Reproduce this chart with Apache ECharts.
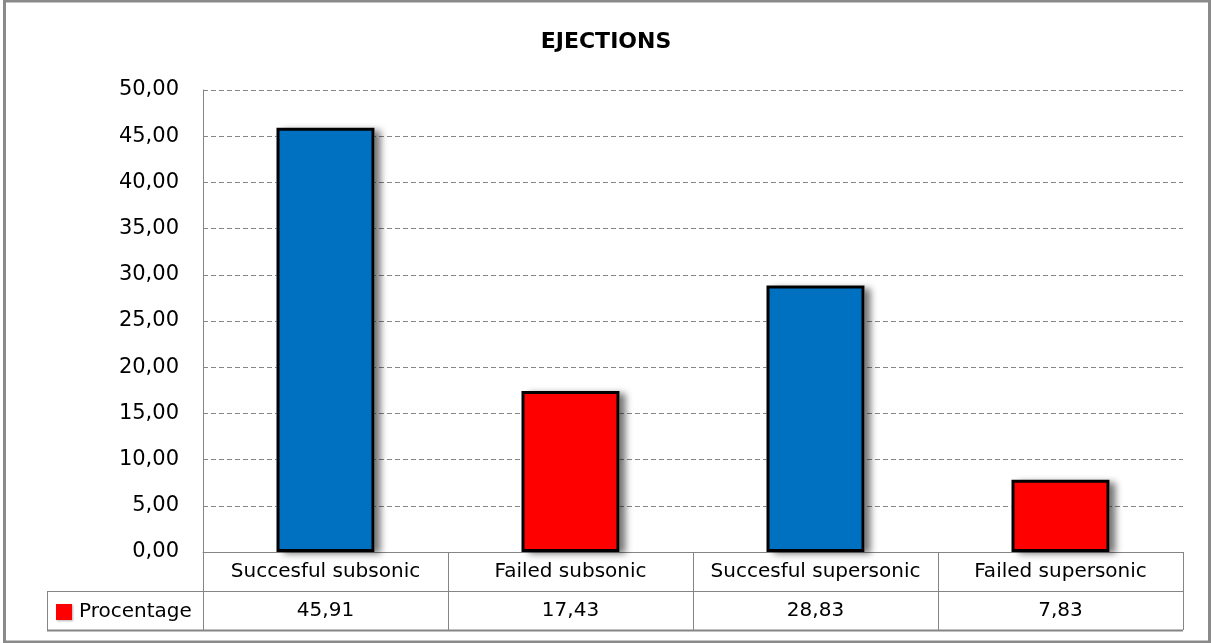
<!DOCTYPE html>
<html>
<head>
<meta charset="utf-8">
<script src="https://cdn.jsdelivr.net/npm/echarts@6/dist/echarts.min.js"></script>
<style>
html,body{margin:0;padding:0;background:#fff;}
#chart{width:1212px;height:643px;}
</style>
</head>
<body>
<div id="chart"></div>
<script>
const title = 'EJECTIONS';
const seriesName = 'Procentage';
const categories = ['Succesful subsonic', 'Failed subsonic', 'Succesful supersonic', 'Failed supersonic'];
const values = [45.91, 17.43, 28.83, 7.83];
const yTicks = [0, 5, 10, 15, 20, 25, 30, 35, 40, 45, 50];

// styling / layout (not data)
const BLUE = '#0070C0', RED = '#FF0000', GRAY = '#858585';
const barColors = [BLUE, RED, BLUE, RED];
const FONT = 'DejaVu Sans';
const G = {left: 203, right: 29, top: 90, bottom: 91};
const W = 1212, H = 643;
const axisY = H - G.bottom;          // 552
const rowH = 39;
const tableLeft = 47;
const tableRight = W - G.right;

const fmt = v => v.toFixed(2).replace('.', ',');

const chart = echarts.init(document.getElementById('chart'), null, {renderer: 'canvas'});
chart.setOption({
  animation: false,
  backgroundColor: '#fff',
  title: {
    text: title, left: 'center', top: 26,
    textStyle: {fontFamily: FONT, fontSize: 22, fontWeight: 'bold', color: '#000'}
  },
  legend: {
    data: [seriesName], left: 56, top: axisY + rowH + 11,
    itemWidth: 16, itemHeight: 16, itemGap: 5, padding: 0,
    icon: 'rect',
    itemStyle: {color: RED, borderWidth: 0, shadowColor: 'rgba(0,0,0,0.3)', shadowBlur: 2, shadowOffsetX: 1, shadowOffsetY: 1},
    textStyle: {fontFamily: FONT, fontSize: 20, color: '#000', padding: [0, 0, 0, 2]}
  },
  grid: {left: G.left, right: G.right, top: G.top, bottom: G.bottom, containLabel: false},
  xAxis: [{
    type: 'category', data: categories, position: 'bottom',
    axisLine: {show: true, lineStyle: {color: GRAY, width: 1}},
    axisTick: {show: true, length: rowH * 2, interval: 0, lineStyle: {color: GRAY, width: 1}},
    axisLabel: {interval: 0, margin: 9, fontFamily: FONT, fontSize: 20, color: '#000', lineHeight: 21},
    splitLine: {show: false}
  }, {
    type: 'category', data: values.map(fmt), position: 'bottom', offset: rowH,
    axisLine: {show: false}, axisTick: {show: false},
    axisLabel: {interval: 0, margin: 9, fontFamily: FONT, fontSize: 20, color: '#000', lineHeight: 21}
  }],
  yAxis: {
    type: 'value', min: yTicks[0], max: yTicks[yTicks.length - 1], interval: yTicks[1] - yTicks[0],
    axisLine: {show: true, lineStyle: {color: GRAY, width: 1}},
    axisTick: {show: false},
    axisLabel: {formatter: fmt, margin: 24, fontFamily: FONT, fontSize: 21, color: '#000'},
    splitLine: {show: true, lineStyle: {color: GRAY, type: [5, 3], width: 1}}
  },
  series: [{
    name: 'shadow', type: 'bar', xAxisIndex: 0, barWidth: '40%', barGap: '-100%', silent: true,
    itemStyle: {color: '#fff', borderWidth: 0,
      shadowColor: 'rgba(0,0,0,0.55)', shadowBlur: 7, shadowOffsetX: 6, shadowOffsetY: 2},
    data: values
  }, {
    name: seriesName, type: 'bar', xAxisIndex: 0, barWidth: '40%', barGap: '-100%',
    itemStyle: {color: RED, borderColor: '#000', borderWidth: 3},
    data: values.map((v, i) => ({value: v, itemStyle: {color: barColors[i]}}))
  }],
  graphic: [
    {type: 'rect', shape: {x: 4.5, y: 1, width: W - 7, height: H - 2}, style: {fill: null, stroke: '#8a8a8a', lineWidth: 3}, silent: true},
    {type: 'line', shape: {x1: tableLeft, y1: axisY + rowH + 0.5, x2: tableRight, y2: axisY + rowH + 0.5}, style: {stroke: GRAY, lineWidth: 1}},
    {type: 'line', shape: {x1: tableLeft, y1: axisY + 2 * rowH + 0.5, x2: tableRight, y2: axisY + 2 * rowH + 0.5}, style: {stroke: GRAY, lineWidth: 2}},
    {type: 'line', shape: {x1: tableLeft + 0.5, y1: axisY + rowH, x2: tableLeft + 0.5, y2: axisY + 2 * rowH}, style: {stroke: GRAY, lineWidth: 1}}
  ]
});
</script>
</body>
</html>
